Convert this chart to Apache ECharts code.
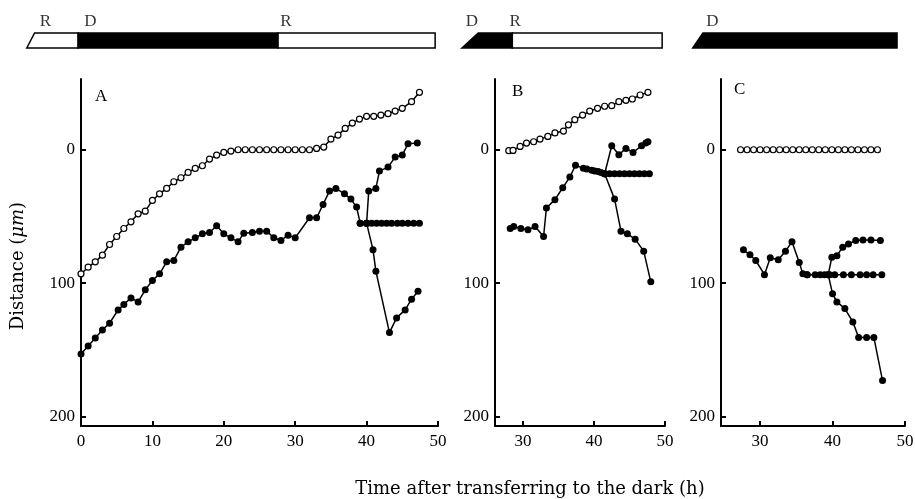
<!DOCTYPE html>
<html>
<head>
<meta charset="utf-8">
<script src="https://cdn.jsdelivr.net/npm/echarts@6/dist/echarts.min.js"></script>
<style>
html, body { margin: 0; background: #fff; }
#chart { width: 915px; height: 499px; }
</style>
</head>
<body>
<div id="chart"></div>
<script>
// panel A : [time (h), distance (um)]
var aOpen = [[0,93],[1,88],[2,84],[3,79],[4,71],[5,65],[6,59],[7,54],[8,48],[9,46],[10,38],[11,33],[12,29],[13,24],[14,21],[15,17],[16,14],[17,12],[18,7],[19,4],[20,2],[21,1],[22,0],[23,0],[24,0],[25,0],[26,0],[27,0],[28,0],[29,0],[30,0],[31,0],[32,0],[33,-1],[34,-2],[35,-8],[36,-11],[37,-16],[38,-20],[39,-23],[40,-25],[41,-25],[42,-26],[43,-27],[44,-29],[45,-31],[46.3,-36],[47.4,-43]];
var aMain = [[0,153],[1,147],[2,141],[3,135],[4,130],[5.2,120],[6,116],[7,111],[8,114],[9,105],[10,98],[11,93],[12,84],[13,83],[14,73],[15,69],[16,66],[17,63],[18,62],[19,57],[20,63],[21,66],[22,69],[22.8,62.5],[24,62],[25,61],[26,61],[27,66],[28,68],[29,64],[30,66],[32,51],[33,51],[33.9,41],[34.8,31],[35.7,29],[36.9,33],[37.8,37],[38.6,43],[39.1,55]];
var aFlat = [[39.1,55],[40,55],[40.7,55],[41.4,55],[42.1,55],[42.8,55],[43.5,55],[44.3,55],[45,55],[45.8,55],[46.6,55],[47.4,55]];
var aUp = [[40,55],[40.3,31],[41.3,29],[41.8,16],[43,13],[44,5.5],[45,4],[45.8,-4.5],[47.1,-5]];
var aDown = [[40,55],[40.9,75],[41.3,91],[43.2,137],[44.2,126],[45.4,120],[46.3,112],[47.2,106]];

// panel B
var bOpen = [[28,0.7],[28.6,0.5],[29.6,-2.5],[30.5,-5],[31.5,-6],[32.4,-8],[33.5,-10],[34.5,-12.6],[35.7,-14],[36.4,-18.7],[37.3,-22.5],[38.4,-26],[39.4,-29],[40.5,-31],[41.5,-32.6],[42.5,-33],[43.5,-36],[44.5,-37],[45.4,-38],[46.5,-41],[47.6,-43]];
var bMain = [[28.2,59],[28.7,57.6],[29.7,59],[30.7,60],[31.7,57.6],[32.9,65],[33.3,43.7],[34.5,37.4],[35.6,28.5],[36.6,20.5],[37.4,11.6],[38.5,13.9],[39,14.5],[39.7,15.4],[40.1,16],[40.6,16.4],[41,17],[41.5,18]];
var bFlat = [[41.5,18],[42.2,18],[42.9,18],[43.6,18],[44.3,18],[45,18],[45.7,18],[46.4,18],[47.1,18],[47.8,18]];
var bUp = [[41.5,18],[42.5,-3],[43.5,3.8],[44.5,-1],[45.5,2],[46.7,-3],[47.3,-5],[47.6,-6]];
var bDown = [[41.5,18],[42.9,37],[43.8,61],[44.7,63],[45.8,67],[47,76],[48,99]];

// panel C
var cOpen = [[27.3,0],[28.2,0],[29.1,0],[30,0],[30.9,0],[31.8,0],[32.7,0],[33.6,0],[34.5,0],[35.4,0],[36.3,0],[37.2,0],[38.1,0],[39,0],[39.9,0],[40.8,0],[41.7,0],[42.6,0],[43.5,0],[44.4,0],[45.3,0],[46.2,0]];
var cMain = [[27.7,75],[28.6,78.7],[29.4,83],[30.6,93.6],[31.4,81],[32.5,82.4],[33.5,76],[34.4,69],[35.4,84.4],[35.9,93],[36.5,93.6]];
var cFlat = [[36.5,93.6],[37.6,93.6],[38.3,93.6],[38.9,93.6],[39.6,93.6],[40.3,93.6],[41.5,93.6],[42.6,93.6],[43.8,93.6],[44.7,93.6],[45.6,93.6],[46.8,93.6]];
var cUp = [[39.4,93.6],[39.9,80.6],[40.6,79.4],[41.4,73],[42.2,70.6],[43.2,68],[44.2,67.6],[45.3,67.6],[46.6,68]];
var cDown = [[39.4,93.6],[40,108],[40.6,114],[41.7,119],[42.8,129],[43.6,140.6],[44.7,140.6],[45.7,140.6],[46.9,173]];

// light (R) / dark (D) periods above each panel: [start, end, kind, slant]
var aBars = [[-7.6,-0.4,'R',1.1],[-0.4,27.6,'D',0],[27.6,49.6,'R',0]];
var bBars = [[21.4,28.5,'D',2.3],[28.5,49.6,'R',0]];
var cBars = [[20.7,48.9,'D',1.4]];
var aMarks = [[-5,'R'],[1.3,'D'],[28.7,'R']];
var bMarks = [[22.8,'D'],[28.9,'R']];
var cMarks = [[23.4,'D']];

// axes
var xRanges = [[0,50],[26.06,50],[24.6,50]];
var xTicksA = [0,10,20,30,40,50];
var xTicksBC = [30,40,50];
var yTicks = [0,100,200];
var yRange = [-53,207];

var FONT = 'Liberation Serif';
var dom = document.getElementById('chart');
var chart = echarts.init(dom);

var gridPos = [[81,357],[495,170],[721,184]];

function mainGrid(p) {
	return { left: p[0], width: p[1], top: 79, height: 347, outerBoundsMode: 'none', containLabel: false };
}
function barGrid(p) {
	return { left: p[0], width: p[1], top: 33, height: 15, outerBoundsMode: 'none', containLabel: false };
}

function xAxisMain(i, ticks) {
	return {
		type: 'value', gridIndex: i, min: xRanges[i][0], max: xRanges[i][1],
		splitLine: { show: false },
		axisLine: { show: true, onZero: false, lineStyle: { color: '#000', width: 2 } },
		axisTick: { show: true, inside: true, length: 5, customValues: ticks, lineStyle: { color: '#000', width: 2 } },
		axisLabel: { customValues: ticks, color: '#000', fontFamily: FONT, fontSize: 17, margin: 7 }
	};
}
function yAxisMain(i) {
	return {
		type: 'value', gridIndex: i, inverse: true, min: yRange[0], max: yRange[1],
		splitLine: { show: false },
		axisLine: { show: true, onZero: false, lineStyle: { color: '#000', width: 2 } },
		axisTick: { show: true, inside: true, length: 5, customValues: yTicks, lineStyle: { color: '#000', width: 2 } },
		axisLabel: { customValues: yTicks, color: '#000', fontFamily: FONT, fontSize: 17, margin: 6 }
	};
}
function hiddenX(i) {
	return { type: 'value', gridIndex: i + 3, min: xRanges[i][0], max: xRanges[i][1], show: false };
}
function hiddenY(i) {
	return { type: 'value', gridIndex: i + 3, min: 0, max: 1, show: false };
}

function lineSeries(data, idx, open) {
	return {
		type: 'line', xAxisIndex: idx, yAxisIndex: idx, data: data,
		symbol: 'circle', symbolSize: open ? 6 : 7, showSymbol: true,
		lineStyle: { color: '#000', width: 1.5 },
		itemStyle: open ? { color: '#fff', borderColor: '#000', borderWidth: 1.2 } : { color: '#000' },
		z: open ? 3 : 2, silent: true
	};
}

function barSeries(bars, idx) {
	return {
		type: 'custom', xAxisIndex: idx + 3, yAxisIndex: idx + 3, clip: false, silent: true,
		data: bars.map(function (b) { return [b[0], b[1]]; }),
		renderItem: function (params, api) {
			var b = bars[params.dataIndex];
			var bl = api.coord([b[0], 0]);
			var tl = api.coord([b[0] + b[3], 1]);
			var tr = api.coord([b[1], 1]);
			var br = api.coord([b[1], 0]);
			var dark = b[2] === 'D';
			return {
				type: 'polygon',
				shape: { points: [bl, tl, tr, br] },
				style: { fill: dark ? '#000' : '#fff', stroke: '#000', lineWidth: 1.5 }
			};
		}
	};
}

function markSeries(marks, idx) {
	return {
		type: 'scatter', xAxisIndex: idx + 3, yAxisIndex: idx + 3, clip: false, silent: true,
		symbolSize: 0,
		data: marks.map(function (m) { return { value: [m[0], 1], name: m[1] }; }),
		label: { show: true, position: 'top', distance: 3, formatter: '{b}', color: '#000', fontFamily: FONT, fontSize: 17 }
	};
}

var series = [];
[[aMain, aFlat, aUp, aDown, aOpen], [bMain, bFlat, bUp, bDown, bOpen], [cMain, cFlat, cUp, cDown, cOpen]].forEach(function (p, i) {
	series.push(lineSeries(p[0], i, false));
	series.push(lineSeries(p[1], i, false));
	series.push(lineSeries(p[2], i, false));
	series.push(lineSeries(p[3], i, false));
	series.push(lineSeries(p[4], i, true));
});
series.push(barSeries(aBars, 0), barSeries(bBars, 1), barSeries(cBars, 2));
series.push(markSeries(aMarks, 0), markSeries(bMarks, 1), markSeries(cMarks, 2));

var option = {
	animation: false,
	backgroundColor: '#fff',
	textStyle: { fontFamily: FONT },
	title: [
		{ text: 'A', left: 90, top: 83, textStyle: { fontFamily: FONT, fontSize: 17, fontWeight: 'normal', color: '#000' } },
		{ text: 'B', left: 507, top: 78, textStyle: { fontFamily: FONT, fontSize: 17, fontWeight: 'normal', color: '#000' } },
		{ text: 'C', left: 729, top: 76, textStyle: { fontFamily: FONT, fontSize: 17, fontWeight: 'normal', color: '#000' } }
	],
	grid: gridPos.map(mainGrid).concat(gridPos.map(barGrid)),
	xAxis: [xAxisMain(0, xTicksA), xAxisMain(1, xTicksBC), xAxisMain(2, xTicksBC), hiddenX(0), hiddenX(1), hiddenX(2)],
	yAxis: [yAxisMain(0), yAxisMain(1), yAxisMain(2), hiddenY(0), hiddenY(1), hiddenY(2)],
	graphic: [{
		type: 'text', x: 530, y: 489,
		style: { text: 'Time after transferring to the dark (h)', fill: '#000', font: '18px "DejaVu Serif"', align: 'center', verticalAlign: 'middle' }
	}, {
		type: 'text', x: 18, y: 266, rotation: Math.PI / 2,
		style: {
			text: 'Distance ({i|μm})', fill: '#000', font: '18px "DejaVu Serif"', align: 'center', verticalAlign: 'middle',
			rich: { i: { fontStyle: 'italic', fontFamily: 'DejaVu Serif', fontSize: 18, fill: '#000' } }
		}
	}],
	series: series
};
chart.setOption(option);

window.addEventListener('resize', function () {
	chart.resize();
});
</script>
</body>
</html>
